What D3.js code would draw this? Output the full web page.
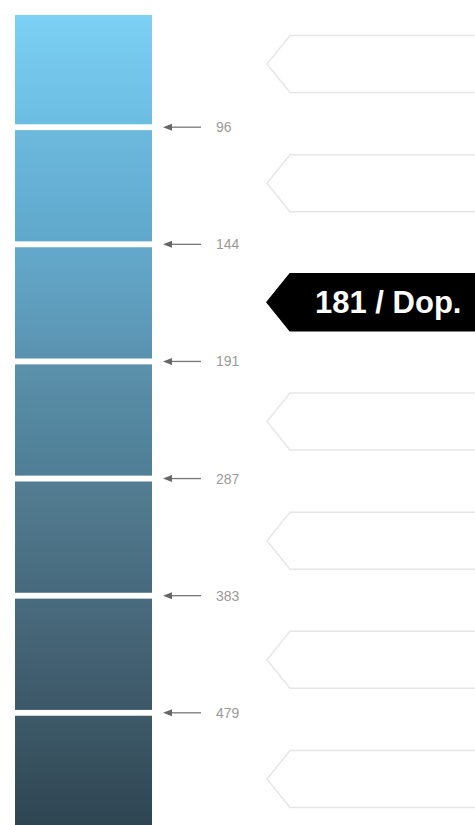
<!DOCTYPE html>
<html>
<head>
<meta charset="utf-8">
<script src="https://cdn.jsdelivr.net/npm/d3@7"></script>
<style>
  body { margin: 0; background: #fff; }
  svg { display: block; }
</style>
</head>
<body>
<svg id="chart" width="475" height="825"></svg>
<script>
  // legend classes, top (light) to bottom (dark)
  const classes = [0, 1, 2, 3, 4, 5, 6];
  const breaks = ['96', '144', '191', '287', '383', '479'];
  const topColors = ['#7cd0f4', '#6cb9de', '#64a9cb', '#5b91ab', '#547e93', '#4a6c7f', '#3e5a69'];
  const bottomColors = ['#6bbde2', '#5fa7cb', '#5a92b0', '#4f7e96', '#476a7d', '#3d5868', '#2f4552'];
  const calloutText = ['', '', '181 / Dop.', '', '', '', ''];
  const activeClass = 2;

  const svg = d3.select('#chart');

  const y = d3.scaleBand().domain(classes).range([13, 827]).paddingInner(0.05);
  const yCallout = d3.scalePoint().domain(classes).range([64, 779]);

  const defs = svg.append('defs');
  classes.forEach(i => {
    const g = defs.append('linearGradient')
      .attr('id', 'grad' + i)
      .attr('x1', 0).attr('y1', 0).attr('x2', 0).attr('y2', 1);
    g.append('stop').attr('offset', '0%').attr('stop-color', topColors[i]);
    g.append('stop').attr('offset', '100%').attr('stop-color', bottomColors[i]);
  });

  // colour column
  svg.selectAll('rect.cls')
    .data(classes)
    .enter()
    .append('rect')
    .attr('class', 'cls')
    .attr('x', 15)
    .attr('width', 137)
    .attr('y', d => Math.max(15, y(d)))
    .attr('height', d => y.bandwidth() - (Math.max(15, y(d)) - y(d)))
    .attr('fill', d => 'url(#grad' + d + ')');

  // break arrows + labels
  const gapY = i => y(i + 1) - (y.step() - y.bandwidth()) / 2;

  svg.selectAll('line.brk')
    .data(breaks)
    .enter()
    .append('line')
    .attr('class', 'brk')
    .attr('x1', 201).attr('x2', 170)
    .attr('y1', (d, i) => gapY(i))
    .attr('y2', (d, i) => gapY(i))
    .attr('stroke', '#777')
    .attr('stroke-width', 1.3);

  svg.selectAll('path.head')
    .data(breaks)
    .enter()
    .append('path')
    .attr('class', 'head')
    .attr('d', (d, i) => {
      const cy = gapY(i);
      return `M163,${cy} L172,${cy - 3.5} L172,${cy + 3.5} Z`;
    })
    .attr('fill', '#666');

  svg.selectAll('text.brk')
    .data(breaks)
    .enter()
    .append('text')
    .attr('class', 'brk')
    .attr('x', 216)
    .attr('y', (d, i) => gapY(i) + 5)
    .attr('font-family', 'Liberation Sans, Arial, sans-serif')
    .attr('font-size', 14)
    .attr('fill', '#9a9a9a')
    .text(d => d);

  // callouts
  const half = 28.5;
  const callout = cy => `M267,${cy} L290,${cy - half} L490,${cy - half} L490,${cy + half} L290,${cy + half} Z`;

  svg.selectAll('path.callout')
    .data(classes)
    .enter()
    .append('path')
    .attr('class', 'callout')
    .attr('d', d => callout(yCallout(d)))
    .attr('fill', d => d === activeClass ? '#000' : '#fff')
    .attr('stroke', d => d === activeClass ? '#000' : '#e6e6e6')
    .attr('stroke-width', 1.5);

  svg.selectAll('text.callout')
    .data(classes.filter(d => calloutText[d]))
    .enter()
    .append('text')
    .attr('class', 'callout')
    .attr('x', 315)
    .attr('y', d => yCallout(d) + 11)
    .attr('font-family', 'Liberation Sans, Arial, sans-serif')
    .attr('font-weight', 'bold')
    .attr('font-size', 31)
    .attr('fill', '#fff')
    .text(d => calloutText[d]);
</script>
</body>
</html>
